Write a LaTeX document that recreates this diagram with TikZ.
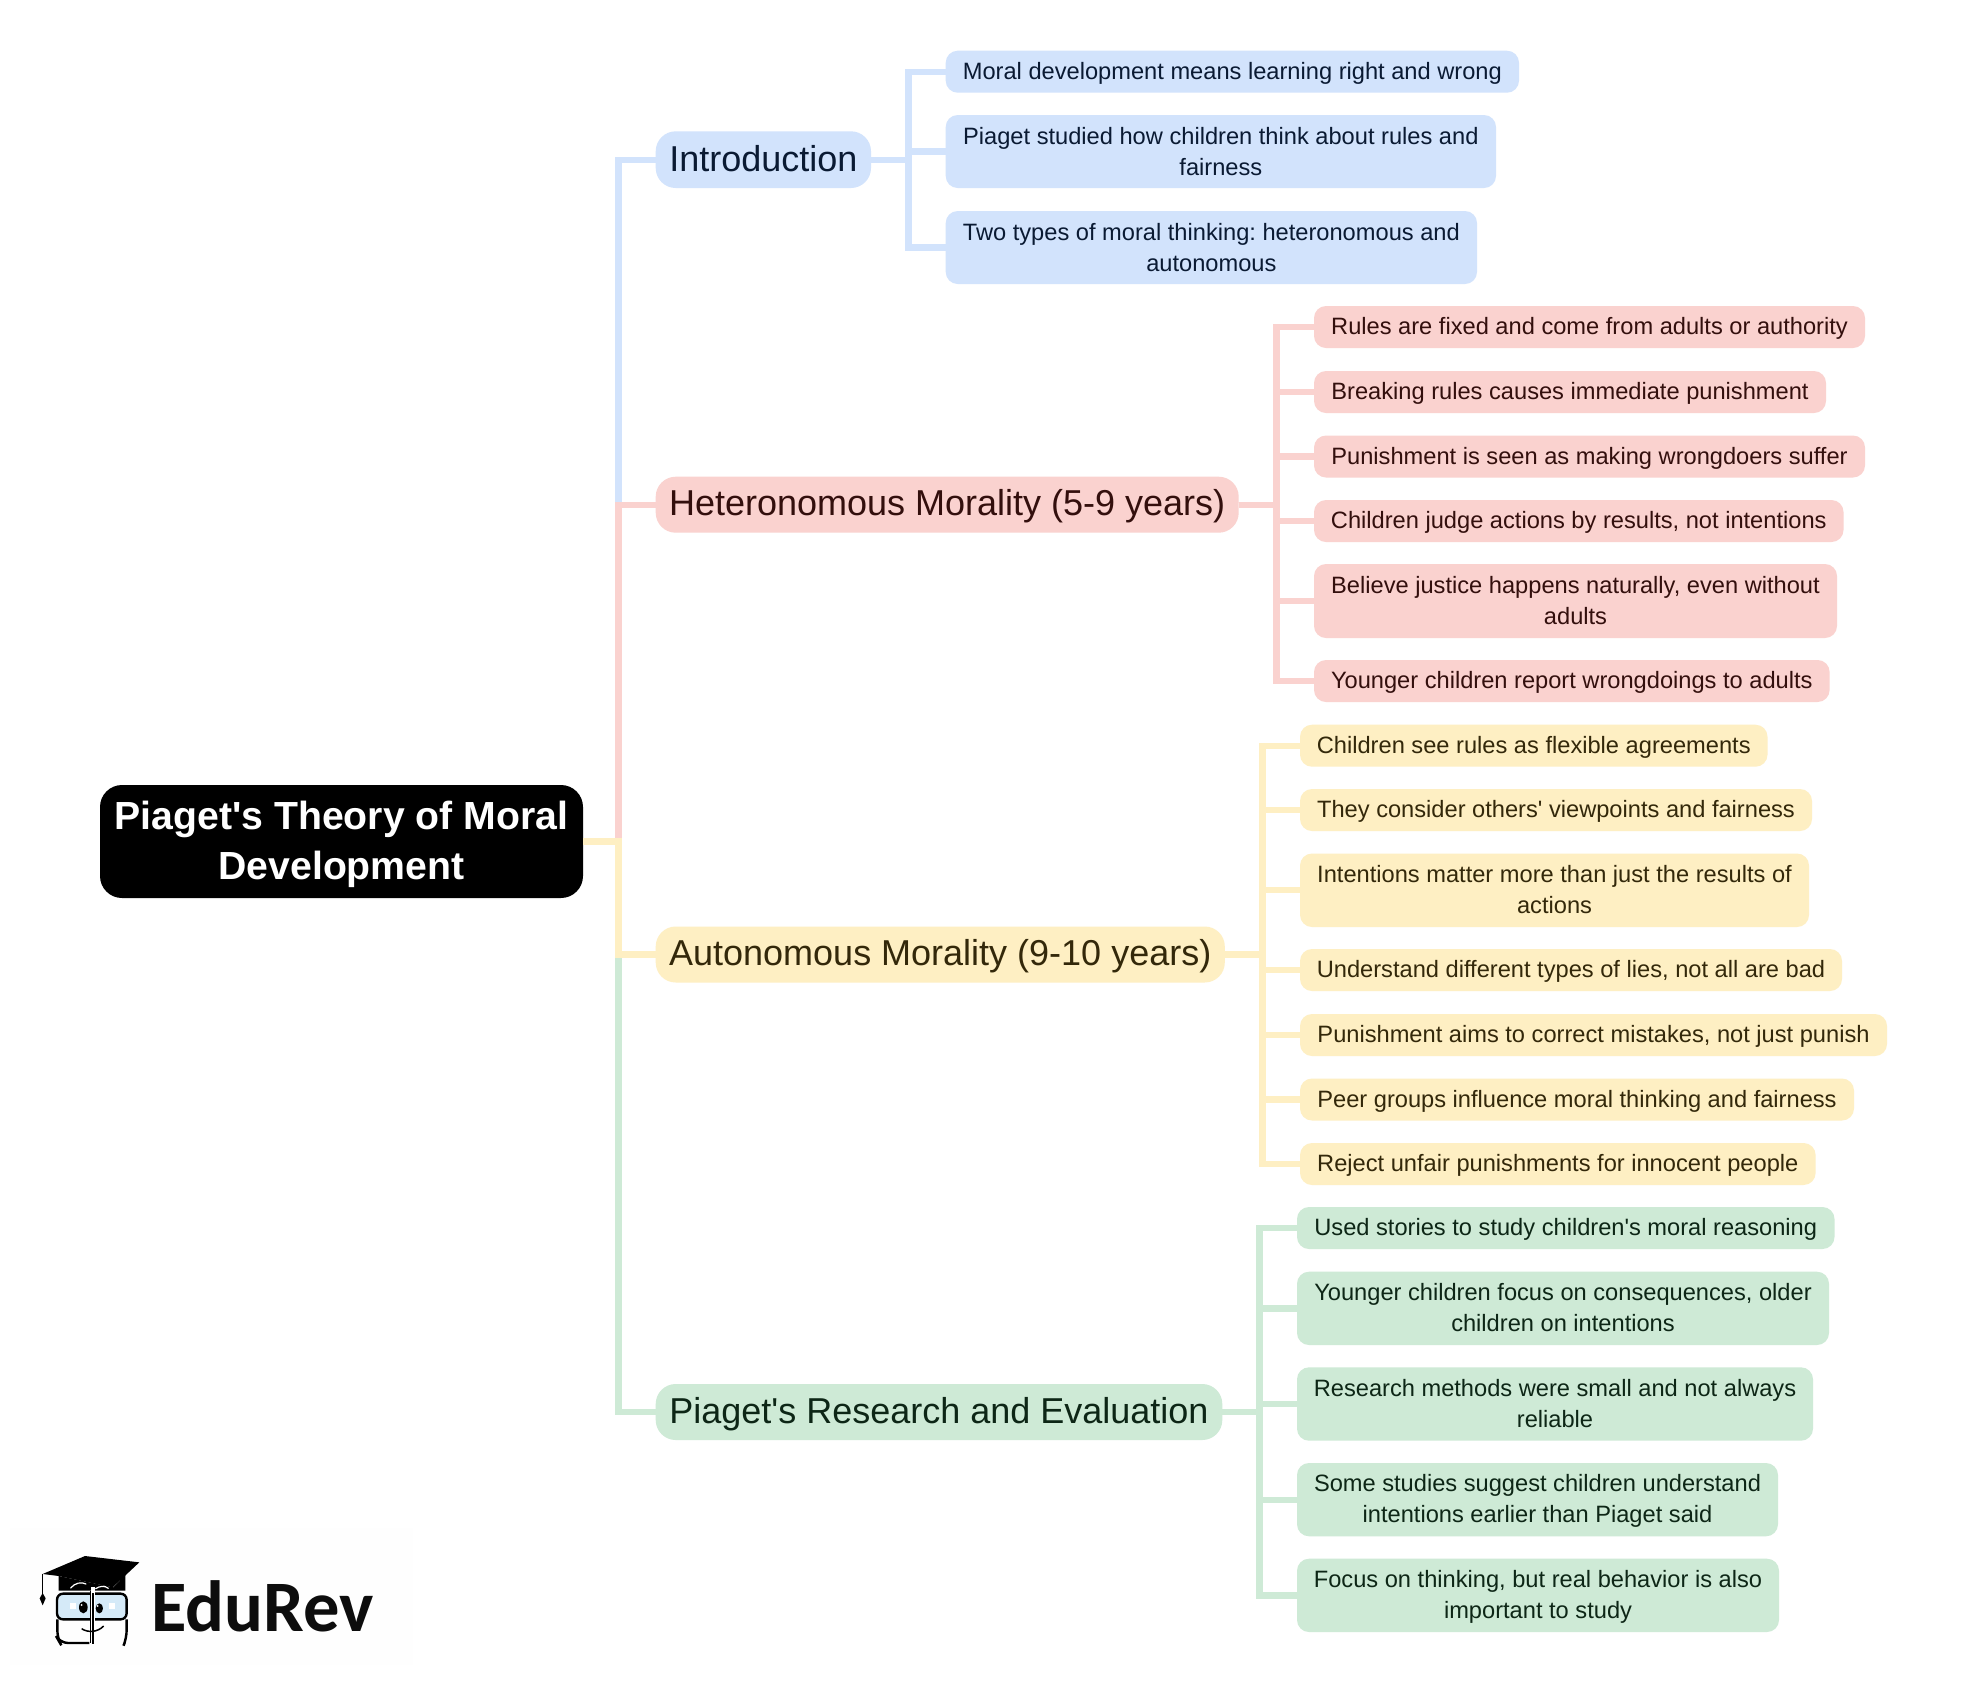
\documentclass[tikz,border=0pt]{standalone}
\usepackage{fontspec}
\setmainfont{Liberation Sans}[Ligatures=TeXOff]
\newfontfamily\logofont{Carlito}
\definecolor{bluefill}{HTML}{D2E3FC}
\definecolor{redfill}{HTML}{FAD2CF}
\definecolor{yellowfill}{HTML}{FEEFC3}
\definecolor{greenfill}{HTML}{CEEAD6}
\definecolor{bluetext}{HTML}{0A1A33}
\definecolor{redtext}{HTML}{330F0D}
\definecolor{yellowtext}{HTML}{33280A}
\definecolor{greentext}{HTML}{0D2616}
\definecolor{lens}{HTML}{D5EAF8}
\definecolor{logoback}{HTML}{FEFEFE}
\tikzset{
  boxbase/.style={rectangle,inner sep=0pt,outer sep=0pt,align=center},
  leafbox/.style={boxbase,rounded corners=12pt,font=\fontsize{23.65}{31}\selectfont},
  headbox/.style={boxbase,rounded corners=20pt,font=\fontsize{36}{44}\selectfont},
  rootbox/.style={boxbase,rounded corners=22pt,fill=black,text=white,font=\fontsize{39.2}{49.5}\selectfont\bfseries},
  conn/.style={line width=6.3pt,line join=miter,line cap=butt},
}
% name, colour, x1, y1, x2, y2, text
\newcommand{\leafnode}[7]{%
  \pgfmathsetmacro{\boxw}{#5-#3}\pgfmathsetmacro{\boxh}{#6-#4}%
  \node[leafbox,fill=#2fill,text=#2text,minimum width=\boxw pt,minimum height=\boxh pt] (#1) at ({(#3+#5)/2},{(#4+#6)/2})
    {\rule{0pt}{20pt}#7\rule[-4pt]{0pt}{4pt}};}
\newcommand{\headnode}[7]{%
  \pgfmathsetmacro{\boxw}{#5-#3}\pgfmathsetmacro{\boxh}{#6-#4}%
  \node[headbox,fill=#2fill,text=#2text,minimum width=\boxw pt,minimum height=\boxh pt] (#1) at ({(#3+#5)/2},{(#4+#6)/2})
    {\rule{0pt}{30pt}#7\rule[-7pt]{0pt}{7pt}};}
\newcommand{\branch}[4]{\draw[conn,draw=#4] (#1.east) -- (#2 |- #1.east) -- (#2 |- #3.west) -- (#3.west);}
\begin{document}
\frenchspacing
\begin{tikzpicture}[x=1pt,y=-1pt]
\useasboundingbox (0,0) rectangle (1988,1682);
\fill[white] (0,0) rectangle (1988,1682);
\fill[logoback] (10,1528) rectangle (413,1665);

\coordinate (tm) at (618.5,0);
\coordinate (ti) at (908.5,0);
\coordinate (th) at (1276.5,0);
\coordinate (ta) at (1262.5,0);
\coordinate (tr) at (1259.5,0);

\node[rootbox,minimum width=483pt,minimum height=113pt] (root) at (341.5,841.5)
  {\rule{0pt}{34pt}Piaget's Theory of Moral\\Development\rule[-8pt]{0pt}{8pt}};

\headnode{intro}{blue}{655.7}{131.3}{871}{188}{Introduction}
\headnode{hetero}{red}{655.7}{476.7}{1238.7}{532.7}{Heteronomous Morality (5-9 years)}
\headnode{auto}{yellow}{655.7}{926.5}{1224.8}{982.5}{Autonomous Morality (9-10 years)}
\headnode{res}{green}{655.7}{1384}{1222.3}{1440}{Piaget's Research and Evaluation}

\leafnode{ia}{blue}{945.7}{50.7}{1519}{92.7}{Moral development means learning right and wrong}
\leafnode{ib}{blue}{945.7}{115}{1496}{188}{Piaget studied how children think about rules and\\fairness}
\leafnode{ic}{blue}{945.7}{211}{1477}{284}{Two types of moral thinking: heteronomous and\\autonomous}

\leafnode{ha}{red}{1314}{306}{1865}{348}{Rules are fixed and come from adults or authority}
\leafnode{hb}{red}{1314}{371}{1826}{413}{Breaking rules causes immediate punishment}
\leafnode{hc}{red}{1314}{435.5}{1865}{477.5}{Punishment is seen as making wrongdoers suffer}
\leafnode{hd}{red}{1314}{500}{1843.5}{542}{Children judge actions by results, not intentions}
\leafnode{he}{red}{1314}{564}{1837}{638}{Believe justice happens naturally, even without\\adults}
\leafnode{hf}{red}{1314}{660}{1829.6}{702}{Younger children report wrongdoings to adults}

\leafnode{aa}{yellow}{1300}{724.7}{1767.5}{766.7}{Children see rules as flexible agreements}
\leafnode{ab}{yellow}{1300}{789}{1812}{831}{They consider others' viewpoints and fairness}
\leafnode{ac}{yellow}{1300}{853.5}{1809}{927}{Intentions matter more than just the results of\\actions}
\leafnode{ad}{yellow}{1300}{949}{1842}{991}{Understand different types of lies, not all are bad}
\leafnode{ae}{yellow}{1300}{1014}{1887}{1056}{Punishment aims to correct mistakes, not just punish}
\leafnode{af}{yellow}{1300}{1078.5}{1854}{1120.5}{Peer groups influence moral thinking and fairness}
\leafnode{ag}{yellow}{1300}{1143}{1815.6}{1185}{Reject unfair punishments for innocent people}

\leafnode{ra}{green}{1297}{1207}{1834.5}{1249}{Used stories to study children's moral reasoning}
\leafnode{rb}{green}{1297}{1271.7}{1829}{1345}{Younger children focus on consequences, older\\children on intentions}
\leafnode{rc}{green}{1297}{1367.3}{1813}{1440.7}{Research methods were small and not always\\reliable}
\leafnode{rd}{green}{1297}{1463}{1778}{1536.3}{Some studies suggest children understand\\intentions earlier than Piaget said}
\leafnode{re}{green}{1297}{1558.7}{1779}{1632}{Focus on thinking, but real behavior is also\\important to study}

\branch{root}{tm}{intro}{bluefill}
\branch{root}{tm}{hetero}{redfill}
\branch{root}{tm}{res}{greenfill}
\branch{root}{tm}{auto}{yellowfill}

\foreach \l in {ia,ib,ic} {\branch{intro}{ti}{\l}{bluefill}}
\foreach \l in {ha,hb,hc,hd,he,hf} {\branch{hetero}{th}{\l}{redfill}}
\foreach \l in {aa,ab,ac,ad,ae,af,ag} {\branch{auto}{ta}{\l}{yellowfill}}
\foreach \l in {ra,rb,rc,rd,re} {\branch{res}{tr}{\l}{greenfill}}

% logo, in units of a third of a pixel
\begin{scope}[shift={(0,1500)},x=.3333pt,y=-.3333pt]
  \fill (128,222) -- (255,168) -- (418,187) -- (338,262) -- (176,228) -- cycle;
  \fill (176,228) -- (340,262) -- (376,225) -- (376,272) -- (176,272) -- cycle;
  \draw[white,line width=1.2pt,line cap=round] (212,264) .. controls (225,248) and (245,245) .. (258,252);
  \draw[white,line width=1.2pt,line cap=round] (287,266) .. controls (298,258) and (315,256) .. (325,265);
  \draw[line width=1.6pt] (128,222) -- (128,285);
  \fill (128,279) -- (137,295) -- (128,316) -- (119,295) -- cycle;
  \draw[line width=2.4pt,fill=lens,rounded corners=6pt] (171,281) rectangle (380,358);
  \draw[line width=2.4pt,rounded corners=8pt] (268,429) -- (180,429) -- (172,415) -- (172,358);
  \draw[line width=2.4pt,rounded corners=8pt] (380,358) -- (380,415) -- (374,429);
  \fill[white] (272,262) rectangle (284,432);
  \draw[line width=1.4pt] (271,272) -- (271,430);
  \draw[line width=2.2pt] (279,280) -- (279,432);
  \fill (250,322) ellipse [x radius=13,y radius=18];
  \fill (298,325) ellipse [x radius=11,y radius=15];
  \fill[white] (245,315) circle [radius=3];
  \fill[white] (293,318) circle [radius=3];
  \fill[white] (210,310) rectangle (228,326);
  \fill[white] (326,310) rectangle (344,326);
  \draw[line width=1.5pt] (245,386) .. controls (262,398) and (292,398) .. (311,378);
\end{scope}
\node[inner sep=0pt,anchor=base west,font=\logofont\bfseries\fontsize{72.5}{75}\selectfont,text=black!95] (logotext) at (151,1631) {EduRev};
\end{tikzpicture}
\end{document}
